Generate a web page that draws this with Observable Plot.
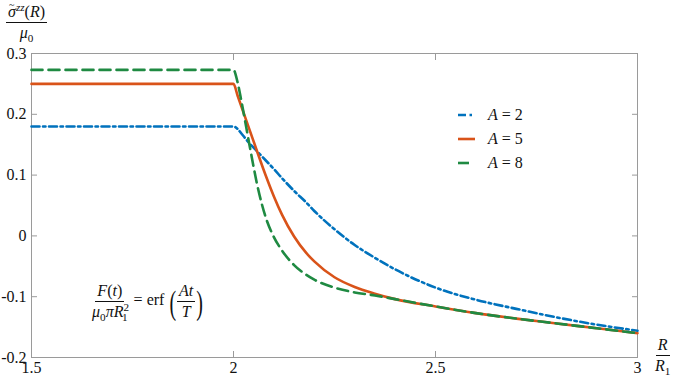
<!DOCTYPE html>
<html><head><meta charset="utf-8">
<script src="https://cdn.jsdelivr.net/npm/d3@7"></script>
<script src="https://cdn.jsdelivr.net/npm/@observablehq/plot@0.6"></script>
<style>
body{margin:0;background:#fff;}
#wrap{position:relative;width:675px;height:377px;font-family:"Liberation Serif","Times New Roman","DejaVu Serif","Noto Serif",FreeSerif,serif;color:#111;}
.ov{position:absolute;font-size:16px;line-height:1;white-space:nowrap;}
.frac{display:inline-flex;flex-direction:column;align-items:center;vertical-align:middle;}
.frac .n{border-bottom:1px solid #111;padding:0 2px 2px;}
.frac .d{padding:2px 2px 0;}
i{font-style:italic}
sub,sup{font-size:70%;line-height:0}
.leg{position:absolute;left:458px;font-size:16px;display:flex;align-items:center;height:20px;}
.leg svg{margin-right:13px}
.par{display:inline-block;font-size:20px;transform:scaleY(1.7);vertical-align:middle;margin:0 1px;}
</style></head>
<body><div id="wrap"></div>
<script>
// R / R1
const R = [1.5, 2.0, 2.01, 2.02, 2.04, 2.06, 2.08, 2.10, 2.12, 2.15, 2.18, 2.20, 2.25, 2.30, 2.35, 2.40, 2.50, 2.60, 2.70, 2.80, 2.90, 3.00];
const A2 = [0.180, 0.180, 0.176, 0.168, 0.152, 0.138, 0.124, 0.110, 0.095, 0.074, 0.055, 0.041, 0.011, -0.015, -0.036, -0.055, -0.085, -0.105, -0.120, -0.134, -0.146, -0.156];
const A5 = [0.250, 0.250, 0.231, 0.212, 0.174, 0.136, 0.099, 0.065, 0.035, -0.001, -0.028, -0.042, -0.068, -0.084, -0.095, -0.104, -0.116, -0.127, -0.136, -0.144, -0.152, -0.160];
const A8 = [0.273, 0.273, 0.253, 0.220, 0.148, 0.080, 0.030, -0.002, -0.024, -0.048, -0.064, -0.072, -0.085, -0.093, -0.098, -0.104, -0.116, -0.127, -0.136, -0.144, -0.152, -0.160];
const seriesNames = ["A = 2", "A = 5", "A = 8"];
const seriesValues = [A2, A5, A8];
const colors = ["#0072BD", "#D95319", "#1F8A42"];
const dashes = ["8,3.5,2.5,3.5", "none", "11,6"];
const xTicks = [1.5, 2, 2.5, 3];
const xTickLabels = ["1.5", "2", "2.5", "3"];
const yTicks = [-0.2, -0.1, 0, 0.1, 0.2, 0.3];
const yTickLabels = ["-0.2", "-0.1", "0", "0.1", "0.2", "0.3"];

const fontStack = '"Liberation Serif","Times New Roman","DejaVu Serif","Noto Serif",FreeSerif,serif';
const frameColor = "#9a9a9a";
const lines = seriesValues.map((vals, k) => {
  const data = R.map((r, i) => ({r, v: vals[i]}));
  return Plot.line(data, {x: "r", y: "v", stroke: colors[k], strokeWidth: 2.6,
    strokeDasharray: dashes[k], curve: "monotone-x", strokeLinejoin: "round"});
});

const chart = Plot.plot({
  width: 675, height: 377,
  marginTop: 53, marginBottom: 20, marginLeft: 31, marginRight: 38,
  style: {fontFamily: fontStack, fontSize: "16px", background: "#fff"},
  x: {domain: [1.5, 3]},
  y: {domain: [-0.2, 0.3]},
  marks: [
    Plot.frame({stroke: frameColor}),
    ...lines,
    Plot.axisX(xTicks, {anchor: "bottom", tickSize: -6, stroke: frameColor, tickFormat: () => "", label: null}),
    Plot.axisX(xTicks, {anchor: "top", tickSize: -6, stroke: frameColor, tickFormat: () => "", label: null}),
    Plot.axisY(yTicks, {anchor: "left", tickSize: -6, stroke: frameColor, tickFormat: () => "", label: null}),
    Plot.axisY(yTicks, {anchor: "right", tickSize: -6, stroke: frameColor, tickFormat: () => "", label: null}),
    Plot.axisX(xTicks, {anchor: "bottom", tickSize: 0, tickPadding: 4, fill: "#111",
      tickFormat: d => xTickLabels[xTicks.indexOf(d)], label: null}),
    Plot.axisY(yTicks, {anchor: "left", tickSize: 0, tickPadding: 5, fill: "#111",
      tickFormat: d => yTickLabels[yTicks.findIndex(t => Math.abs(t - d) < 1e-9)], label: null})
  ]
});
const wrap = document.getElementById("wrap");
wrap.appendChild(chart);

function ov(html, left, top) {
  const d = document.createElement("div");
  d.className = "ov"; d.innerHTML = html;
  d.style.left = left + "px"; d.style.top = top + "px";
  wrap.appendChild(d); return d;
}
// y label
ov('<span class="frac"><span class="n"><span style="position:relative;display:inline-block"><i>σ</i><span style="position:absolute;left:1px;top:-4px;font-size:10px;line-height:1">~</span></span><sup><i>zz</i></sup>(<i>R</i>)</span><span class="d"><i>μ</i><sub>0</sub></span></span>', 6, 4);
// x label
ov('<span class="frac"><span class="n"><i>R</i></span><span class="d"><i>R</i><sub>1</sub></span></span>', 653, 337);
// annotation
ov('<span class="frac"><span class="n"><i>F</i>(<i>t</i>)</span><span class="d"><i>μ</i><sub>0</sub><i>π</i><i>R</i><sup>2</sup><sub style="margin-left:-7px">1</sub></span></span>' +
   ' = erf <span class="par">(</span><span class="frac"><span class="n"><i>At</i></span><span class="d"><i>T</i></span></span><span class="par">)</span>', 90, 283);

// legend
seriesNames.forEach((name, k) => {
  const d = document.createElement("div");
  d.className = "leg";
  d.style.top = (105 + k * 24) + "px";
  d.innerHTML = `<svg width="17" height="6"><line x1="0" x2="17" y1="3" y2="3" stroke="${colors[k]}" stroke-width="2.6" stroke-dasharray="${dashes[k]}"/></svg><span><i>A</i> = ${name.split("= ")[1]}</span>`;
  wrap.appendChild(d);
});
</script>
</body></html>
